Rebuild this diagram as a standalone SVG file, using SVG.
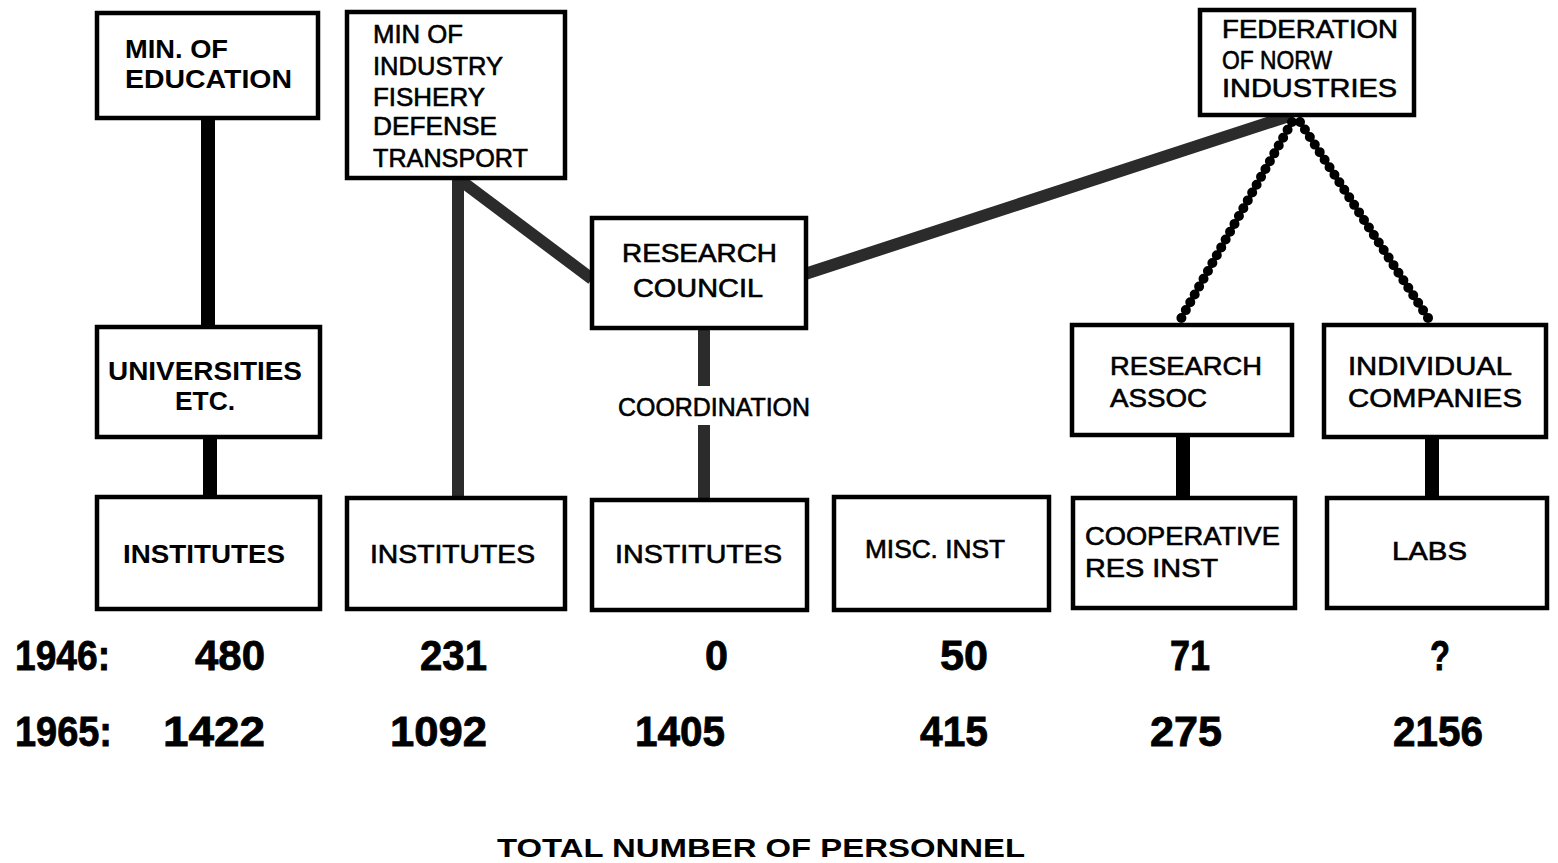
<svg xmlns="http://www.w3.org/2000/svg" width="1558" height="863" viewBox="0 0 1558 863">
<style>
.box{fill:#fff;stroke:#000;stroke-width:4.5}
.t{font-family:"Liberation Sans",Arial,sans-serif;font-size:25px;fill:#000;stroke:#000;stroke-width:0.6}
.tb{font-family:"Liberation Sans",Arial,sans-serif;font-size:26px;font-weight:bold;fill:#000}
.num{font-family:"Liberation Sans Narrow","Liberation Sans",Arial,sans-serif;font-size:42px;font-weight:bold;fill:#000;stroke:#000;stroke-width:0.8}
.solid{stroke:#000;stroke-width:14;fill:none}
.gray{stroke:#2b2b2b;stroke-width:12;fill:none}
.dots{stroke:#000;stroke-width:10;stroke-linecap:round;stroke-dasharray:0 9;fill:none}
</style>
<rect width="1558" height="863" fill="#fff"/>
<g id="connectors">
<line class="solid" x1="208" y1="118" x2="208" y2="327"/>
<line class="solid" x1="210" y1="437" x2="210" y2="497"/>
<line class="gray" x1="458" y1="178" x2="458" y2="498"/>
<line class="gray" x1="460" y1="180" x2="592" y2="279"/>
<line class="gray" x1="704" y1="328" x2="704" y2="386"/>
<line class="gray" x1="704" y1="425" x2="704" y2="500"/>
<line class="gray" x1="805" y1="274" x2="1292" y2="115"/>
<line class="dots" x1="1292" y1="122" x2="1178" y2="324"/>
<line class="dots" x1="1300" y1="122" x2="1432" y2="324"/>
<line class="solid" x1="1183" y1="435" x2="1183" y2="498"/>
<line class="solid" x1="1432" y1="437" x2="1432" y2="498"/>
</g>
<g id="min-education">
<rect class="box" x="97" y="13" width="221" height="105"/>
<text class="tb" x="125" y="58" textLength="103" lengthAdjust="spacingAndGlyphs">MIN. OF</text>
<text class="tb" x="125" y="88" textLength="167" lengthAdjust="spacingAndGlyphs">EDUCATION</text>
</g>
<g id="min-industry">
<rect class="box" x="347" y="12" width="218" height="166"/>
<text class="t" x="373" y="43" textLength="90" lengthAdjust="spacingAndGlyphs">MIN OF</text>
<text class="t" x="373" y="75" textLength="130" lengthAdjust="spacingAndGlyphs">INDUSTRY</text>
<text class="t" x="373" y="106" textLength="112" lengthAdjust="spacingAndGlyphs">FISHERY</text>
<text class="t" x="373" y="135" textLength="124" lengthAdjust="spacingAndGlyphs">DEFENSE</text>
<text class="t" x="373" y="167" textLength="155" lengthAdjust="spacingAndGlyphs">TRANSPORT</text>
</g>
<g id="federation">
<rect class="box" x="1200" y="10" width="214" height="105"/>
<text class="t" x="1222" y="38" textLength="176" lengthAdjust="spacingAndGlyphs">FEDERATION</text>
<text class="t" x="1222" y="69" textLength="110" lengthAdjust="spacingAndGlyphs">OF NORW</text>
<text class="t" x="1222" y="97" textLength="175" lengthAdjust="spacingAndGlyphs">INDUSTRIES</text>
</g>
<g id="research-council">
<rect class="box" x="592" y="218" width="214" height="110"/>
<text class="t" x="622" y="262" textLength="155" lengthAdjust="spacingAndGlyphs">RESEARCH</text>
<text class="t" x="633" y="297" textLength="130" lengthAdjust="spacingAndGlyphs">COUNCIL</text>
</g>
<g id="coordination">
<text class="t" x="618" y="416" textLength="192" lengthAdjust="spacingAndGlyphs">COORDINATION</text>
</g>
<g id="universities">
<rect class="box" x="97" y="327" width="223" height="110"/>
<text class="tb" x="108" y="380" textLength="194" lengthAdjust="spacingAndGlyphs">UNIVERSITIES</text>
<text class="tb" x="175" y="410" textLength="60" lengthAdjust="spacingAndGlyphs">ETC.</text>
</g>
<g id="research-assoc">
<rect class="box" x="1072" y="325" width="220" height="110"/>
<text class="t" x="1110" y="375" textLength="152" lengthAdjust="spacingAndGlyphs">RESEARCH</text>
<text class="t" x="1110" y="407" textLength="97" lengthAdjust="spacingAndGlyphs">ASSOC</text>
</g>
<g id="individual-companies">
<rect class="box" x="1324" y="325" width="222" height="112"/>
<text class="t" x="1348" y="375" textLength="164" lengthAdjust="spacingAndGlyphs">INDIVIDUAL</text>
<text class="t" x="1348" y="407" textLength="174" lengthAdjust="spacingAndGlyphs">COMPANIES</text>
</g>
<g id="institutes-1">
<rect class="box" x="97" y="497" width="223" height="112"/>
<text class="tb" x="123" y="563" textLength="162" lengthAdjust="spacingAndGlyphs">INSTITUTES</text>
</g>
<g id="institutes-2">
<rect class="box" x="347" y="498" width="218" height="111"/>
<text class="t" x="370" y="563" textLength="165" lengthAdjust="spacingAndGlyphs">INSTITUTES</text>
</g>
<g id="institutes-3">
<rect class="box" x="592" y="500" width="215" height="110"/>
<text class="t" x="615" y="563" textLength="167" lengthAdjust="spacingAndGlyphs">INSTITUTES</text>
</g>
<g id="misc-inst">
<rect class="box" x="834" y="497" width="215" height="113"/>
<text class="t" x="865" y="558" textLength="140" lengthAdjust="spacingAndGlyphs">MISC. INST</text>
</g>
<g id="cooperative">
<rect class="box" x="1073" y="498" width="222" height="110"/>
<text class="t" x="1085" y="545" textLength="195" lengthAdjust="spacingAndGlyphs">COOPERATIVE</text>
<text class="t" x="1085" y="577" textLength="133" lengthAdjust="spacingAndGlyphs">RES INST</text>
</g>
<g id="labs">
<rect class="box" x="1327" y="498" width="220" height="110"/>
<text class="t" x="1392" y="560" textLength="75" lengthAdjust="spacingAndGlyphs">LABS</text>
</g>
<g id="numbers">
<text class="num" x="15" y="670" textLength="95" lengthAdjust="spacingAndGlyphs">1946:</text>
<text class="num" x="195" y="670" textLength="70" lengthAdjust="spacingAndGlyphs">480</text>
<text class="num" x="420" y="670" textLength="67" lengthAdjust="spacingAndGlyphs">231</text>
<text class="num" x="705" y="670" textLength="23" lengthAdjust="spacingAndGlyphs">0</text>
<text class="num" x="940" y="670" textLength="48" lengthAdjust="spacingAndGlyphs">50</text>
<text class="num" x="1170" y="670" textLength="40" lengthAdjust="spacingAndGlyphs">71</text>
<text class="num" x="1430" y="670" textLength="20" lengthAdjust="spacingAndGlyphs">?</text>
<text class="num" x="15" y="746" textLength="97" lengthAdjust="spacingAndGlyphs">1965:</text>
<text class="num" x="163" y="746" textLength="102" lengthAdjust="spacingAndGlyphs">1422</text>
<text class="num" x="390" y="746" textLength="97" lengthAdjust="spacingAndGlyphs">1092</text>
<text class="num" x="635" y="746" textLength="90" lengthAdjust="spacingAndGlyphs">1405</text>
<text class="num" x="920" y="746" textLength="68" lengthAdjust="spacingAndGlyphs">415</text>
<text class="num" x="1150" y="746" textLength="72" lengthAdjust="spacingAndGlyphs">275</text>
<text class="num" x="1393" y="746" textLength="90" lengthAdjust="spacingAndGlyphs">2156</text>
</g>
<g id="title">
<text class="tb" x="497" y="857" textLength="528" lengthAdjust="spacingAndGlyphs">TOTAL NUMBER OF PERSONNEL</text>
</g>
</svg>
